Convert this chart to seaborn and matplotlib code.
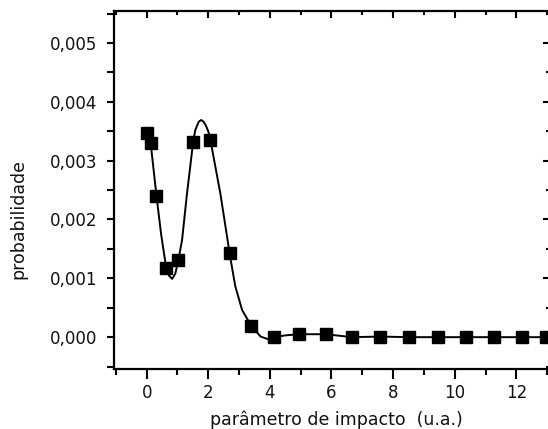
import matplotlib
matplotlib.use("Agg")
import matplotlib.pyplot as plt
from matplotlib.ticker import MultipleLocator, FixedLocator, NullFormatter
import seaborn as sns
import pandas as pd

# Marker data (impact parameter, probability)
x_pts = [0.0, 0.13, 0.32, 0.64, 1.03, 1.51, 2.07, 2.69, 3.40, 4.14,
         4.95, 5.81, 6.67, 7.56, 8.53, 9.45, 10.36, 11.28, 12.17, 12.95]
y_pts = [3.47e-3, 3.30e-3, 2.40e-3, 1.18e-3, 1.31e-3, 3.32e-3, 3.35e-3, 1.43e-3, 0.19e-3, 0.00,
         0.05e-3, 0.05e-3, 0.00, 0.01e-3, 0.00, 0.00, 0.00, 0.00, 0.00, 0.00]

# Smooth curve
curve_x = [0.0, 0.13, 0.32, 0.47, 0.57, 0.64, 0.72, 0.83, 0.93, 1.03, 1.15, 1.31, 1.42,
           1.51, 1.58, 1.69, 1.77, 1.85, 1.91, 2.00, 2.07, 2.23, 2.39, 2.61, 2.69,
           2.88, 3.10, 3.40, 3.70, 3.97, 4.14, 4.50, 4.95, 5.81, 6.67, 7.56, 8.53,
           9.45, 10.36, 11.28, 12.17, 12.95, 13.3]
curve_y = [3.47e-3, 3.30e-3, 2.40e-3, 1.75e-3, 1.40e-3, 1.18e-3, 1.05e-3, 0.99e-3, 1.08e-3,
           1.31e-3, 1.65e-3, 2.44e-3, 2.92e-3, 3.32e-3, 3.52e-3, 3.66e-3, 3.69e-3, 3.66e-3,
           3.61e-3, 3.50e-3, 3.35e-3, 2.90e-3, 2.45e-3, 1.71e-3, 1.43e-3, 0.86e-3, 0.46e-3,
           0.19e-3, 0.01e-3, -0.04e-3, 0.00, 0.03e-3, 0.05e-3, 0.05e-3, 0.00, 0.01e-3, 0.00,
           0.00, 0.00, 0.00, 0.00, 0.00, 0.00]

y_ticks = [0.000, 0.001, 0.002, 0.003, 0.004, 0.005]
y_ticklabels = ["0,000", "0,001", "0,002", "0,003", "0,004", "0,005"]
x_ticks = [0, 2, 4, 6, 8, 10, 12]
x_ticklabels = ["0", "2", "4", "6", "8", "10", "12"]

sns.set_style("ticks")
plt.rcParams['font.family'] = ['DejaVu Sans']
plt.rcParams['text.color'] = '#111111'
plt.rcParams['xtick.color'] = 'black'
plt.rcParams['ytick.color'] = 'black'
plt.rcParams['xtick.labelcolor'] = '#111111'
plt.rcParams['ytick.labelcolor'] = '#111111'
plt.rcParams['axes.labelcolor'] = '#111111'

XLIM = (-1.06, 13.1)
YLIM = (-0.00054, 0.00554)

fig = plt.figure(figsize=(5.48, 4.29), dpi=100)
ax = fig.add_axes([0.208, 0.140, 0.796, 0.834])

df_curve = pd.DataFrame({"x": curve_x, "y": curve_y})
df_pts = pd.DataFrame({"x": x_pts, "y": y_pts})

sns.lineplot(data=df_curve, x="x", y="y", ax=ax, color="black", linewidth=1.4,
             sort=False, estimator=None, zorder=2)
ax.plot(df_pts["x"], df_pts["y"], linestyle="none", marker="s", markersize=8.6,
        color="black", zorder=3, clip_on=False)

ax.set_xlim(*XLIM)
ax.set_ylim(*YLIM)

ax.xaxis.set_major_locator(FixedLocator(x_ticks))
ax.set_xticklabels(x_ticklabels)
ax.xaxis.set_minor_locator(MultipleLocator(1))
ax.yaxis.set_major_locator(FixedLocator(y_ticks))
ax.set_yticklabels(y_ticklabels)
ax.yaxis.set_minor_locator(MultipleLocator(0.0005))

for s in ax.spines.values():
    s.set_linewidth(1.6)
    s.set_color("black")

ax.tick_params(axis="x", which="major", direction="out", length=7, width=1.5,
               labelsize=12, pad=4, top=False)
ax.tick_params(axis="x", which="minor", direction="out", length=4, width=1.5, top=False)
ax.tick_params(axis="y", which="major", direction="out", length=5, width=1.5,
               labelsize=12, pad=7, right=False)
ax.tick_params(axis="y", which="minor", direction="out", length=5, width=1.5, right=False)

# Top ticks pointing inward
axt = ax.twiny()
axt.set_xlim(*XLIM)
axt.xaxis.set_major_locator(FixedLocator(x_ticks))
axt.xaxis.set_minor_locator(MultipleLocator(1))
axt.xaxis.set_major_formatter(NullFormatter())
axt.tick_params(axis="x", which="major", direction="in", length=5, width=1.5)
axt.tick_params(axis="x", which="minor", direction="in", length=3, width=1.5)
axt.tick_params(axis="y", which="both", left=False, right=False,
                labelleft=False, labelright=False)
for s in axt.spines.values():
    s.set_visible(False)

# Right ticks pointing inward
axr = ax.twinx()
axr.set_ylim(*YLIM)
axr.yaxis.set_major_locator(FixedLocator(y_ticks))
axr.yaxis.set_minor_locator(MultipleLocator(0.0005))
axr.yaxis.set_major_formatter(NullFormatter())
axr.tick_params(axis="y", which="major", direction="in", length=5, width=1.5)
axr.tick_params(axis="y", which="minor", direction="in", length=3, width=1.5)
axr.tick_params(axis="x", which="both", bottom=False, top=False,
                labelbottom=False, labeltop=False)
for s in axr.spines.values():
    s.set_visible(False)

ax.set_xlabel("parâmetro de impacto  (u.a.)", fontsize=12.5)
ax.xaxis.set_label_coords(0.509, -0.115)
ax.set_ylabel("probabilidade", fontsize=12.5)
ax.yaxis.set_label_coords(-0.198, 0.42)

fig.savefig("out.png", dpi=100)
